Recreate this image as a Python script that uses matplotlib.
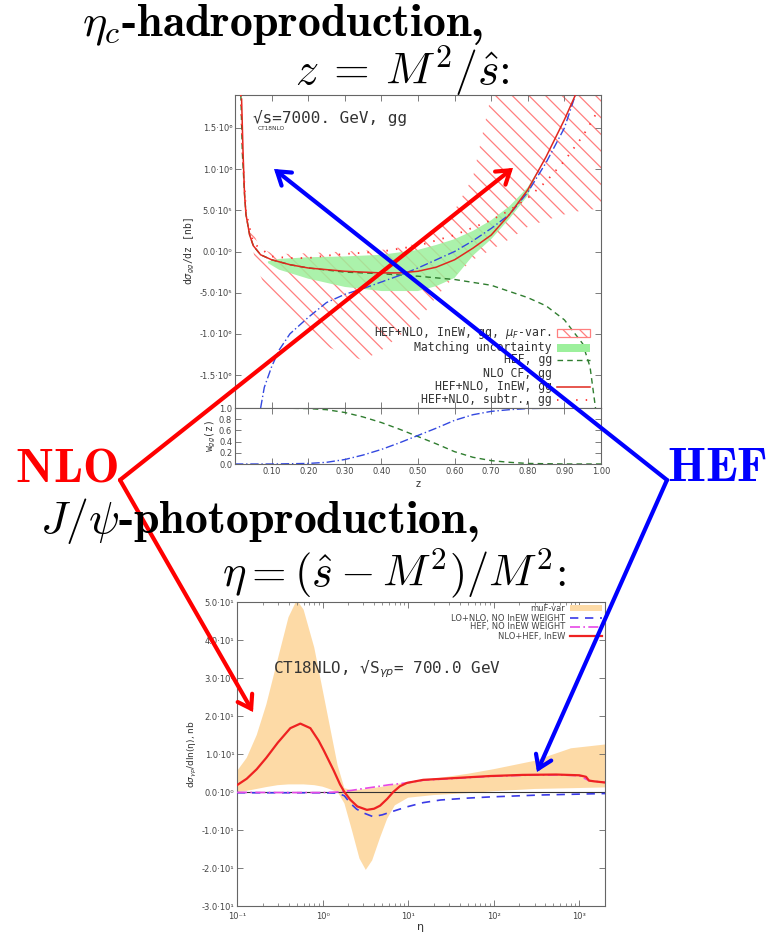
import matplotlib
matplotlib.use("Agg")
import matplotlib.pyplot as plt
from matplotlib.patches import FancyArrowPatch, Rectangle
from matplotlib.lines import Line2D

# ---------------- eta_c hadroproduction, z = M^2/s ----------------
z_red = [0.018, 0.022, 0.026, 0.03, 0.04, 0.05, 0.07, 0.1, 0.15, 0.2, 0.3, 0.4, 0.45,
         0.5, 0.55, 0.6, 0.65, 0.7, 0.75, 0.8, 0.85, 0.9, 0.93]
y_red = [1.85, 1.2, 0.7, 0.45, 0.2, 0.07, -0.04, -0.1, -0.16, -0.2, -0.24, -0.26, -0.26,
         -0.24, -0.19, -0.1, 0.04, 0.2, 0.45, 0.75, 1.15, 1.6, 1.9]

z_hef = [0.016, 0.02, 0.026, 0.03, 0.04, 0.05, 0.07, 0.1, 0.15, 0.2, 0.3, 0.4, 0.5,
         0.6, 0.7, 0.8, 0.85, 0.9, 0.95, 0.97, 0.985]
y_hef = [1.9, 1.2, 0.7, 0.45, 0.2, 0.07, -0.04, -0.1, -0.16, -0.2, -0.25, -0.27, -0.3,
         -0.34, -0.41, -0.56, -0.66, -0.83, -1.12, -1.4, -1.9]

z_nlo = [0.07, 0.08, 0.1, 0.12, 0.15, 0.2, 0.25, 0.3, 0.35, 0.4, 0.45, 0.5, 0.55,
         0.6, 0.65, 0.7, 0.75, 0.8, 0.85, 0.9, 0.93]
y_nlo = [-1.9, -1.65, -1.4, -1.2, -1.0, -0.8, -0.62, -0.52, -0.45, -0.37, -0.29, -0.2, -0.1,
         0.0, 0.13, 0.28, 0.45, 0.72, 1.08, 1.5, 1.9]

z_sub = [0.016, 0.02, 0.03, 0.05, 0.1, 0.15, 0.2, 0.25, 0.3, 0.4, 0.5, 0.6, 0.7,
         0.75, 0.8, 0.85, 0.9, 0.95, 0.98, 0.99]
y_sub = [1.9, 1.25, 0.48, 0.1, -0.06, -0.08, -0.08, -0.05, -0.03, 0.0, 0.07, 0.2, 0.38,
         0.5, 0.65, 0.85, 1.1, 1.4, 1.62, 1.7]

z_match = [0.09, 0.12, 0.2, 0.3, 0.4, 0.5, 0.55, 0.6, 0.65, 0.7, 0.75, 0.8, 0.83]
match_hi = [-0.12, -0.09, -0.07, -0.06, -0.04, 0.02, 0.08, 0.15, 0.25, 0.38, 0.55, 0.78, 1.0]
match_lo = [-0.14, -0.22, -0.33, -0.43, -0.48, -0.48, -0.42, -0.32, -0.05, 0.15, 0.4, 0.68, 1.0]

z_muf = [0.04, 0.06, 0.08, 0.1, 0.15, 0.2, 0.25, 0.3, 0.35, 0.4, 0.45, 0.5, 0.55,
         0.6, 0.65, 0.7, 0.75, 0.8, 0.85, 0.9, 0.95, 1.0]
muf_hi = [0.35, 0.12, 0.02, -0.02, -0.03, -0.02, -0.01, 0.0, 0.01, 0.02, 0.05, 0.1, 0.25,
          0.5, 0.9, 1.9, 3.0, 3.0, 3.0, 3.0, 3.0, 3.0]
muf_lo = [0.2, -0.2, -0.4, -0.55, -0.85, -1.02, -1.15, -1.25, -1.32, -1.2, -1.02, -0.85, -0.55,
          -0.3, -0.1, 0.02, 0.15, 0.3, 0.38, 0.45, 0.5, 0.52]

z_w = [0.0, 0.1, 0.2, 0.25, 0.3, 0.35, 0.4, 0.45, 0.5, 0.55, 0.6, 0.65, 0.7, 0.75, 0.8, 0.9, 1.0]
w_hef = [1.0, 1.0, 0.99, 0.97, 0.92, 0.84, 0.74, 0.62, 0.49, 0.36, 0.22, 0.12, 0.06, 0.03, 0.01, 0.0, 0.0]
w_nlo = [0.0, 0.0, 0.01, 0.03, 0.08, 0.16, 0.26, 0.38, 0.51, 0.64, 0.78, 0.88, 0.94, 0.97, 0.99, 1.0, 1.0]

top_yticks = [1.5, 1.0, 0.5, 0.0, -0.5, -1.0, -1.5]
top_ylabels = ["1.5·10⁶", "1.0·10⁶", "5.0·10⁵", "0.0·10⁰", "-5.0·10⁵", "-1.0·10⁶", "-1.5·10⁶"]
z_ticks = [0.1, 0.2, 0.3, 0.4, 0.5, 0.6, 0.7, 0.8, 0.9, 1.0]
z_ticklabels = ["0.10", "0.20", "0.30", "0.40", "0.50", "0.60", "0.70", "0.80", "0.90", "1.00"]
w_ticks = [0.0, 0.2, 0.4, 0.6, 0.8, 1.0]

# ---------------- J/psi photoproduction, eta = (s - M^2)/M^2 ----------------
eta_band = [0.1, 0.13, 0.17, 0.22, 0.3, 0.4, 0.5, 0.6, 0.8, 1.0, 1.2, 1.5, 1.8, 2.2, 2.7,
            3.2, 3.8, 4.7, 5.7, 7.0, 10, 20, 50, 100, 300, 800, 2000]
band_lo = [0.0, 0.3, 0.8, 1.3, 1.8, 2.0, 2.0, 2.0, 1.8, 1.4, 0.8, 0.0, -3.0, -10.0, -17.5,
           -20.5, -18.0, -12.0, -7.0, -3.5, -1.5, -0.8, -0.3, 0.2, 0.8, 1.0, 1.2]
band_hi = [5.5, 9.0, 15.0, 23.0, 35.0, 46.0, 50.5, 48.0, 38.0, 27.0, 18.0, 7.0, 1.0, 0.5, 0.6,
           0.8, 1.0, 1.3, 1.6, 2.0, 2.6, 3.5, 4.8, 6.0, 8.2, 11.5, 12.5]

eta_red = [0.1, 0.13, 0.17, 0.22, 0.3, 0.42, 0.55, 0.72, 0.9, 1.03, 1.34, 1.6, 1.8, 2.1, 2.55,
           3.3, 4.0, 4.7, 5.7, 6.7, 8.0, 9.7, 15, 37, 90, 218, 537, 1000, 1200, 1300, 1500, 2000]
red_val = [1.8, 3.5, 6.0, 9.0, 13.0, 16.8, 18.0, 16.8, 13.5, 11.0, 5.8, 2.0, 0.0, -2.0, -3.8,
           -4.7, -4.4, -3.6, -1.8, 0.0, 1.5, 2.4, 3.2, 3.7, 4.2, 4.5, 4.6, 4.4, 4.0, 3.0, 2.8, 2.5]

eta_lo = [0.1, 0.3, 0.6, 1.0, 1.5, 1.8, 2.1, 2.5, 3.0, 3.9, 5.0, 6.2, 8.0, 9.7, 15, 24,
          50, 90, 340, 2000]
lo_val = [-0.2, -0.2, -0.2, -0.2, -0.3, -1.0, -2.9, -4.5, -5.5, -6.5, -6.0, -5.3, -4.5, -3.9,
          -2.8, -2.1, -1.6, -1.3, -0.8, -0.4]

eta_hef = [0.1, 0.5, 1.0, 1.5, 2.0, 3.0, 4.0, 6.0, 9.7, 15, 37, 90, 218, 537, 1000, 1300, 2000]
hef_val = [-0.1, -0.15, -0.15, 0.0, 0.3, 0.9, 1.3, 1.9, 2.4, 3.1, 3.6, 4.1, 4.4, 4.5, 4.3, 3.0, 2.5]

bot_yticks = [50, 40, 30, 20, 10, 0, -10, -20, -30]
bot_ylabels = ["5.0·10¹", "4.0·10¹", "3.0·10¹", "2.0·10¹", "1.0·10¹", "0.0·10⁰",
               "-1.0·10¹", "-2.0·10¹", "-3.0·10¹"]
eta_ticks = [0.1, 1, 10, 100, 1000]
eta_ticklabels = ["10⁻¹", "10⁰", "10¹", "10²", "10³"]

# ---------------- figure ----------------
W, H = 768, 932
fig = plt.figure(figsize=(W / 100, H / 100), dpi=100)
plt.rcParams["hatch.linewidth"] = 0.9

TICKC = "#444444"
FRAME = "#666666"


def style_axes(ax, size=6.0):
    ax.tick_params(direction="in", top=True, right=True, length=4, width=0.6,
                   colors=FRAME, labelcolor=TICKC, labelsize=size, pad=2)
    ax.tick_params(which="minor", direction="in", top=True, right=True, length=2,
                   width=0.5, colors=FRAME)
    for s in ax.spines.values():
        s.set_color(FRAME)
        s.set_linewidth(0.8)


def fb(px0, py0, px1, py1):
    return [px0 / W, 1 - py1 / H, (px1 - px0) / W, (py1 - py0) / H]


ax = fig.add_axes(fb(235, 95, 601, 408))
axw = fig.add_axes(fb(235, 408, 601, 464), sharex=ax)

ax.fill_between(z_muf, muf_lo, muf_hi, facecolor="none", edgecolor="#ff7f7f",
                hatch="\\\\", linewidth=0, zorder=1)
ax.fill_between(z_match, match_lo, match_hi, facecolor="#9cf09c", edgecolor="none",
                alpha=0.85, zorder=2)
ax.plot(z_hef, y_hef, color="#2f7d2f", lw=1.0, dashes=(4, 3), zorder=3)
ax.plot(z_nlo, y_nlo, color="#3348e0", lw=1.0, dashes=(6, 2, 1, 2), zorder=3)
ax.plot(z_red, y_red, color="#e0281e", lw=1.1, zorder=4)
ax.plot(z_sub, y_sub, color="#ff3030", lw=1.3, dashes=(0.8, 4.5), zorder=4)

ax.set_xlim(0.0, 1.0)
ax.set_ylim(-1.9, 1.9)
ax.set_yticks(top_yticks, top_ylabels)
ax.set_xticks(z_ticks)
ax.tick_params(labelbottom=False)
style_axes(ax)
ax.set_ylabel(r"d$\sigma_{gg}$/dz [nb]", family="DejaVu Sans Mono", fontsize=7,
              color="#333333", math_fontfamily="dejavusans", labelpad=2)

ax.text(0.049, 0.926, "√s=7000. GeV, gg", transform=ax.transAxes, family="DejaVu Sans Mono",
        fontsize=11.5, color="#333333", va="center", ha="left")
ax.text(0.063, 0.893, "CT18NLO", transform=ax.transAxes, family="DejaVu Sans",
        fontsize=4.2, color="#333333", va="center", ha="left")

# legend of the upper panel
leg_rows = [0.2396, 0.1917, 0.1534, 0.1118, 0.0671, 0.0256]
leg_text = [r"HEF+NLO, InEW, gg, $\mu_F$-var.", "Matching uncertainty", "HEF, gg",
            "NLO CF, gg", "HEF+NLO, InEW, gg", "HEF+NLO, subtr., gg"]
for r, t in zip(leg_rows, leg_text):
    ax.text(0.866, r, t, transform=ax.transAxes, ha="right", va="center",
            family="DejaVu Sans Mono", fontsize=8.3, color="#333333",
            math_fontfamily="dejavusans", zorder=6)
ax.add_patch(Rectangle((0.880, leg_rows[0] - 0.012), 0.09, 0.024, transform=ax.transAxes,
                       facecolor="none", edgecolor="#ff7f7f", hatch="\\\\", lw=0.9, zorder=6))
ax.add_patch(Rectangle((0.880, leg_rows[1] - 0.012), 0.09, 0.024, transform=ax.transAxes,
                       facecolor="#9cf09c", edgecolor="none", zorder=6))
ax.add_line(Line2D([0.880, 0.970], [leg_rows[2]] * 2, transform=ax.transAxes,
                   color="#2f7d2f", lw=1.0, dashes=(4, 3), zorder=6))
ax.add_line(Line2D([0.880, 0.970], [leg_rows[4]] * 2, transform=ax.transAxes,
                   color="#e0281e", lw=1.1, zorder=6))
ax.add_line(Line2D([0.880, 0.970], [leg_rows[5]] * 2, transform=ax.transAxes,
                   color="#ff3030", lw=1.3, dashes=(0.8, 4.5), zorder=6))

axw.plot(z_w, w_hef, color="#2f7d2f", lw=1.0, dashes=(4, 3))
axw.plot(z_w, w_nlo, color="#3348e0", lw=1.0, dashes=(6, 2, 1, 2))
axw.set_ylim(0, 1)
axw.set_yticks(w_ticks, ["0.0", "0.2", "0.4", "0.6", "0.8", "1.0"])
axw.set_xticks(z_ticks, z_ticklabels)
style_axes(axw)
axw.set_xlabel("z", fontsize=7, color="#333333", labelpad=2)
axw.set_ylabel(r"w$_{gg}$(z)", family="DejaVu Sans Mono", fontsize=7, color="#333333",
               math_fontfamily="dejavusans", labelpad=1)

# ---------------- lower panel ----------------
bx = fig.add_axes(fb(237, 602, 605, 906))
bx.fill_between(eta_band, band_lo, band_hi, facecolor="#fddaa6", edgecolor="none", zorder=1)
bx.axhline(0, color="#333333", lw=0.8, zorder=2)
bx.plot(eta_lo, lo_val, color="#3a3ae6", lw=1.2, dashes=(5, 4), zorder=3)
bx.plot(eta_hef, hef_val, color="#e648e6", lw=1.2, dashes=(6, 2, 1, 2), zorder=3)
bx.plot(eta_red, red_val, color="#ee2222", lw=1.6, zorder=4)
bx.set_xscale("log")
bx.set_xlim(0.1, 2000)
bx.set_ylim(-30, 50)
bx.set_yticks(bot_yticks, bot_ylabels)
bx.set_xticks(eta_ticks, eta_ticklabels)
style_axes(bx)
bx.tick_params(axis="x", which="major", pad=4)
bx.set_xlabel("η", fontsize=8, color="#333333", labelpad=1)
bx.set_ylabel(r"d$\sigma_{\gamma p}$/dln(η), nb", fontsize=6.5, color="#333333",
              math_fontfamily="dejavusans", labelpad=2)
bx.text(0.098, 0.78, r"CT18NLO, √S$_{\gamma p}$= 700.0 GeV", transform=bx.transAxes,
        family="DejaVu Sans Mono", fontsize=11.5, color="#333333", va="center",
        math_fontfamily="dejavusans")

brows = [0.980, 0.947, 0.918, 0.888]
btext = ["muF-var", "LO+NLO, NO InEW WEIGHT", "HEF, NO InEW WEIGHT", "NLO+HEF, InEW"]
for r, t in zip(brows, btext):
    bx.text(0.891, r, t, transform=bx.transAxes, ha="right", va="center",
            fontsize=6.0, color="#444444", zorder=6)
bx.add_patch(Rectangle((0.905, brows[0] - 0.011), 0.087, 0.022, transform=bx.transAxes,
                       facecolor="#fddaa6", edgecolor="none", zorder=6))
bx.add_line(Line2D([0.905, 0.992], [brows[1]] * 2, transform=bx.transAxes,
                   color="#3a3ae6", lw=1.2, dashes=(5, 4), zorder=6))
bx.add_line(Line2D([0.905, 0.992], [brows[2]] * 2, transform=bx.transAxes,
                   color="#e648e6", lw=1.2, dashes=(6, 2, 1, 2), zorder=6))
bx.add_line(Line2D([0.905, 0.992], [brows[3]] * 2, transform=bx.transAxes,
                   color="#ee2222", lw=1.6, zorder=6))

# ---------------- overlay: headings, labels and arrows ----------------
ov = fig.add_axes([0, 0, 1, 1], zorder=20)
ov.set_xlim(0, W)
ov.set_ylim(H, 0)
ov.axis("off")
ov.patch.set_alpha(0)

TS = 33
ov.text(82, 25, r"$\eta_c$-$\mathbf{hadroproduction}$,", fontsize=TS, family="cmb10",
        math_fontfamily="cm", va="center", ha="left")
ov.text(295, 71, r"$z\:=\:M^2/\hat{s}$:", fontsize=TS, family="cmr10",
        math_fontfamily="cm", va="center", ha="left")
ov.text(40, 521, r"$J/\psi$-$\mathbf{photoproduction}$,", fontsize=TS, family="cmb10",
        math_fontfamily="cm", va="center", ha="left")
ov.text(222, 573, r"$\eta = (\hat{s} - M^2)/M^2$:", fontsize=32, family="cmr10",
        math_fontfamily="cm", va="center", ha="left")

ov.text(15, 467, r"$\mathbf{NLO}$", fontsize=35, color="#ff0000", math_fontfamily="cm",
        va="center", ha="left")
ov.text(667, 467, r"$\mathbf{HEF}$", fontsize=35, color="#0000ff", math_fontfamily="cm",
        va="center", ha="left")

arrows = [((120, 480), (513, 168), "#ff0000"),
          ((120, 480), (253, 712), "#ff0000"),
          ((667, 480), (274, 169), "#0000ff"),
          ((667, 480), (537, 772), "#0000ff")]
for a, b, c in arrows:
    ov.add_patch(FancyArrowPatch(a, b, arrowstyle="->,head_length=0.9,head_width=0.6",
                                 mutation_scale=10, color=c, lw=3.0, shrinkA=0, shrinkB=0,
                                 capstyle="round", joinstyle="miter"))

fig.savefig("out.png", dpi=100)
